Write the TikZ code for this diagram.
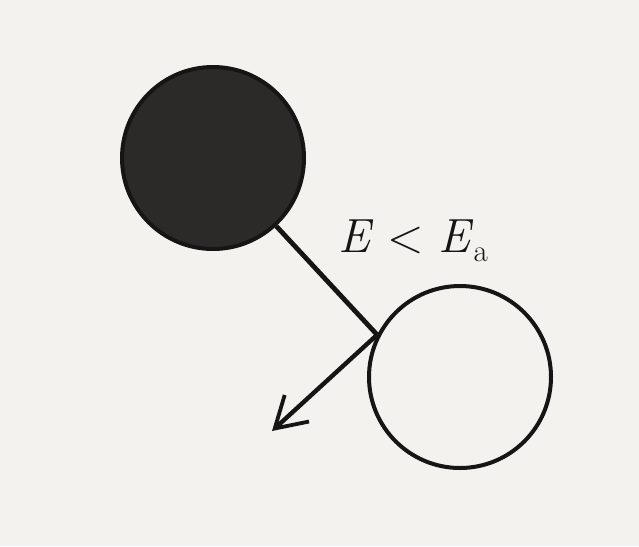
\documentclass[tikz,border=0pt]{standalone}
\usepackage{fontspec}
\usetikzlibrary{arrows.meta}
\definecolor{paper}{RGB}{243,242,238}
\definecolor{ink}{RGB}{22,20,20}
\definecolor{dark}{RGB}{44,41,41}
\begin{document}
\begin{tikzpicture}[x=1pt,y=-1pt,
  ball/.style={circle,minimum size=182pt,inner sep=0pt,draw=ink,line width=4pt},
  link/.style={draw=ink,line width=4.8pt},
  push/.style={draw=ink,line width=4.4pt,-{Straight Barb[length=30pt,width=36pt,line width=3.8pt]}},
  lbl/.style={font=\fontsize{48}{52}\selectfont,text=ink,anchor=base,inner sep=0pt}]
\fill[paper] (0,0) rectangle (639,546);
\useasboundingbox (0,0) rectangle (639,546);
\node[ball,fill=dark] (darkball) at (213,158) {};
\node[ball,fill=paper] (whiteball) at (460,377) {};
\coordinate (hit) at (whiteball.153);
\coordinate (tip) at (272,431);
\draw[link] (darkball) -- (hit);
\draw[push] (hit) -- (tip);
\node[lbl] (energy) at (413,252) {\textit{E}\hspace{0.3em}<\hspace{0.3em}\textit{E}\raisebox{-0.2em}{\fontsize{31}{33}\selectfont a}};
\end{tikzpicture}
\end{document}
